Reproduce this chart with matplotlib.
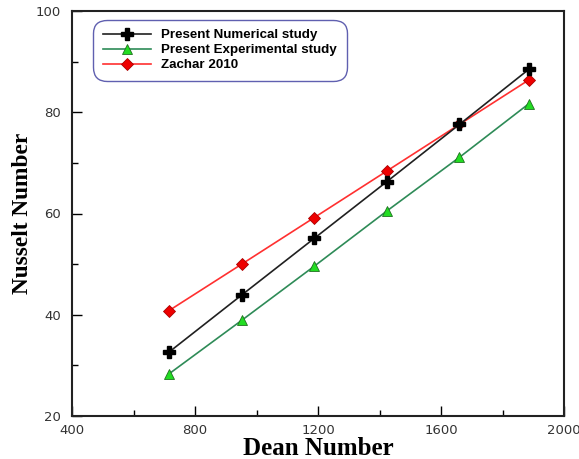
import numpy as np
import matplotlib
matplotlib.use('Agg')
from matplotlib import pyplot as plt
from matplotlib.ticker import MultipleLocator

# data
dean = [715, 952, 1188, 1424, 1660, 1886]
nu_num = [32.6, 43.9, 55.1, 66.3, 77.6, 88.5]
nu_exp = [28.3, 38.9, 49.6, 60.5, 71.1, 81.7]
nu_zachar = [40.8, 50.0, 59.2, 68.4, 77.6, 86.4]

fig = plt.figure(figsize=(5.79, 4.59), dpi=100)
ax = fig.add_axes([72/579, 1-416/459, (564-72)/579, (416-11)/459])

ax.plot(dean, nu_num, color='#202020', lw=1.2, marker='P', ms=9,
        mfc='black', mec='black', label='Present Numerical study', zorder=3)
ax.plot(dean, nu_exp, color='#2e8b57', lw=1.2, marker='^', ms=7,
        mfc='#22dd22', mec='#207020', mew=0.6, label='Present Experimental study')
ax.plot(dean, nu_zachar, color='#ff3030', lw=1.2, marker='D', ms=6,
        mfc='#ee0000', mec='#aa0000', mew=0.6, label='Zachar 2010')

ax.set_xlim(400, 2000)
ax.set_ylim(20, 100)
ax.xaxis.set_major_locator(MultipleLocator(400))
ax.xaxis.set_minor_locator(MultipleLocator(200))
ax.yaxis.set_major_locator(MultipleLocator(20))
ax.yaxis.set_minor_locator(MultipleLocator(10))
ax.tick_params(which='both', direction='in', top=False, right=False,
               labelsize=9.5, labelcolor='#333333', width=1)
ax.tick_params(which='major', length=7)
ax.tick_params(axis='x', pad=6)
ax.tick_params(axis='y', pad=8)
ax.tick_params(which='minor', length=4)
for s in ax.spines.values():
    s.set_linewidth(1.5)
    s.set_color('#222222')

ax.set_xlabel('Dean Number', family='Liberation Serif', fontweight='bold', fontsize=18, labelpad=0)
ax.set_ylabel('Nusselt Number', family='Liberation Serif', fontweight='bold', fontsize=16.8)
ax.yaxis.set_label_coords(-0.079, 0.5)

leg = ax.legend(loc='upper left', bbox_to_anchor=(0.03, 0.995), fancybox=True,
                prop={'family': 'Liberation Sans', 'weight': 'bold', 'size': 9.6},
                handlelength=3.6, labelspacing=0.2, borderpad=0.7, framealpha=1)
leg.get_frame().set_edgecolor('#6060b0')
leg.get_frame().set_linewidth(1)
leg.get_frame().set_boxstyle('round', pad=0, rounding_size=1.0)

plt.savefig('out.png', dpi=100)
